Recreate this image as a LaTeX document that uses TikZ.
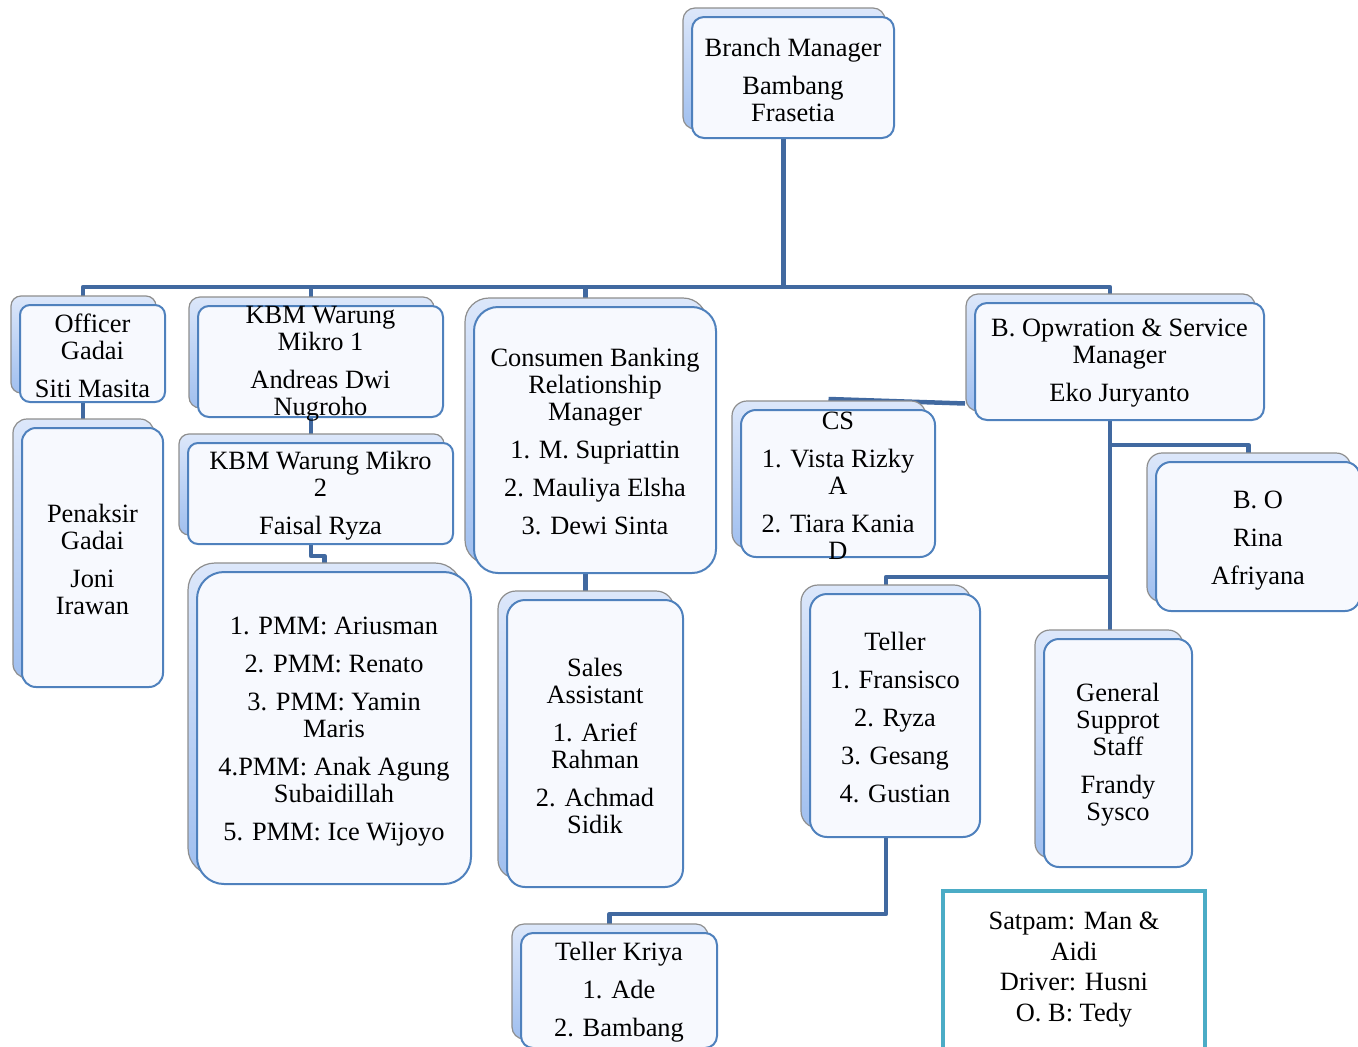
\documentclass[tikz,border=0pt]{standalone}
\usepackage{fontspec}
\setmainfont{Liberation Serif}
\usetikzlibrary{shadows,backgrounds}

\definecolor{linkblue}{HTML}{4169A0}
\definecolor{boxblue}{HTML}{4F81BD}
\definecolor{boxfill}{HTML}{F7F9FE}
\definecolor{backtop}{HTML}{DCE7FA}
\definecolor{backbot}{HTML}{A0BFEF}
\definecolor{backline}{HTML}{8E8E8E}
\definecolor{satline}{HTML}{4BACC6}

\begin{document}
\begin{tikzpicture}[x=1pt,y=-1pt,
  orgbox/.style={draw=boxblue,line width=2pt,fill=boxfill,
    copy shadow={shadow xshift=-9pt,shadow yshift=9pt,top color=backtop,
      bottom color=backbot,draw=backline,line width=1.2pt}},
  boxtext/.style={align=center,inner sep=0pt,yshift=-2pt,font=\fontsize{26.4pt}{27pt}\selectfont},
  link/.style={draw=linkblue,line width=4.5pt,line join=round}]

\useasboundingbox (0,0) rectangle (1358,1047);

% top
\node[orgbox,minimum width=202pt,minimum height=121pt,rounded corners=12pt] (bm) at (793,77.5) {};
\node[boxtext] (bm-t) at (bm) {Branch Manager\\[11pt]Bambang\\Frasetia};
\coordinate (bm-b) at ([xshift=-9.5pt]bm.center);

% second row
\node[orgbox,minimum width=145pt,minimum height=97pt,rounded corners=10pt] (og) at (92.5,353.5) {};
\node[boxtext] (og-t) at (og) {Officer\\Gadai\\[11pt]Siti Masita};
\coordinate (og-b) at ([xshift=-9.5pt]og.center);

\node[orgbox,minimum width=245pt,minimum height=111pt,rounded corners=11pt] (kbm1) at (320.5,361.5) {};
\node[boxtext] (kbm1-t) at (kbm1) {KBM Warung\\Mikro 1\\[11pt]Andreas Dwi\\Nugroho};
\coordinate (kbm1-b) at ([xshift=-9.5pt]kbm1.center);

\node[orgbox,minimum width=242pt,minimum height=266pt,rounded corners=24pt] (cbrm) at (595,440) {};
\node[boxtext] (cbrm-t) at (cbrm) {Consumen Banking\\Relationship\\Manager\\[11pt]1. M. Supriattin\\[11pt]2. Mauliya Elsha\\[11pt]3. Dewi Sinta};
\coordinate (cbrm-b) at ([xshift=-9.5pt]cbrm.center);

\node[orgbox,minimum width=289pt,minimum height=117pt,rounded corners=12pt] (bosm) at (1119.5,361.5) {};
\node[boxtext] (bosm-t) at (bosm) {B. Opwration \& Service\\Manager\\[11pt]Eko Juryanto};
\coordinate (bosm-b) at ([xshift=-9.5pt]bosm.center);

% third row
\node[orgbox,minimum width=141pt,minimum height=259pt,rounded corners=14pt] (pg) at (92.5,557.5) {};
\node[boxtext] (pg-t) at (pg) {Penaksir\\Gadai\\[11pt]Joni\\Irawan};
\coordinate (pg-b) at ([xshift=-9.5pt]pg.center);

\node[orgbox,minimum width=265pt,minimum height=101pt,rounded corners=10pt] (kbm2) at (320.5,493.5) {};
\node[boxtext] (kbm2-t) at (kbm2) {KBM Warung Mikro\\2\\[11pt]Faisal Ryza};
\coordinate (kbm2-b) at ([xshift=-9.5pt]kbm2.center);

\node[orgbox,minimum width=194pt,minimum height=147pt,rounded corners=15pt] (cs) at (838,483.5) {};
\node[boxtext] (cs-t) at (cs) {CS\\[11pt]1. Vista Rizky\\A\\[11pt]2. Tiara Kania\\D};
\coordinate (cs-b) at ([xshift=-9.5pt]cs.center);

\node[orgbox,minimum width=204pt,minimum height=149pt,rounded corners=15pt] (bo) at (1258,536.5) {};
\node[boxtext,yshift=-2pt] (bo-t) at (bo) {B. O\\[11pt]Rina\\[11pt]Afriyana};
\coordinate (bo-b) at ([xshift=-9.5pt]bo.center);

% fourth row
\node[orgbox,minimum width=274pt,minimum height=312pt,rounded corners=27pt] (pmm) at (334,728) {};
\node[boxtext,yshift=-2pt] (pmm-t) at (pmm) {1. PMM: Ariusman\\[11pt]2. PMM: Renato\\[11pt]3. PMM: Yamin\\Maris\\[11pt]4.PMM: Anak Agung\\Subaidillah\\[11pt]5. PMM: Ice Wijoyo};
\coordinate (pmm-b) at ([xshift=-9.5pt]pmm.center);

\node[orgbox,minimum width=176pt,minimum height=287pt,rounded corners=18pt] (sa) at (595,743.5) {};
\node[boxtext] (sa-t) at (sa) {Sales\\Assistant\\[11pt]1. Arief\\Rahman\\[11pt]2. Achmad\\Sidik};
\coordinate (sa-b) at ([xshift=-9.5pt]sa.center);

\node[orgbox,minimum width=170pt,minimum height=243pt,rounded corners=17pt] (tel) at (895,715.5) {};
\node[boxtext] (tel-t) at (tel) {Teller\\[11pt]1. Fransisco\\[11pt]2. Ryza\\[11pt]3. Gesang\\[11pt]4. Gustian};
\coordinate (tel-b) at ([xshift=-9pt]tel.center);

\node[orgbox,minimum width=148pt,minimum height=228pt,rounded corners=15pt] (gss) at (1118,753) {};
\node[boxtext] (gss-t) at (gss) {General\\Supprot\\Staff\\[11pt]Frandy\\Sysco};
\coordinate (gss-b) at ([xshift=-9.5pt]gss.center);

% bottom
\node[orgbox,minimum width=196pt,minimum height=115pt,rounded corners=12pt] (tk) at (619,990.5) {};
\node[boxtext] (tk-t) at (tk) {Teller Kriya\\[11pt]1. Ade\\[11pt]2. Bambang};
\coordinate (tk-b) at ([xshift=-9.5pt]tk.center);

\node[draw=satline,line width=4pt,fill=white,minimum width=262pt,minimum height=169pt] (sat) at (1074,975.5) {};
\node[boxtext,anchor=north,font=\fontsize{26.4pt}{30.5pt}\selectfont] (sat-t) at (1074,910) {Satpam: Man \&\\Aidi\\Driver: Husni\\O. B: Tedy};

% connectors
\coordinate (bus) at (0,287);
\coordinate (jog) at (0,556);
\coordinate (bobus) at (0,445);
\coordinate (telbus) at (0,577);
\coordinate (tkbus) at (0,914);

\begin{pgfonlayer}{background}
\draw[link] (bm-b) -- (bm-b |- bus) -| (og-b);
\draw[link] (bm-b |- bus) -| (kbm1-b);
\draw[link] (bm-b |- bus) -| (cbrm-b);
\draw[link] (bm-b |- bus) -| (bosm-b);

\draw[link] (og-b) -- (pg-b);
\draw[link] (kbm1-b) -- (kbm2-b);
\draw[link] (kbm2-b) -- (kbm2-b |- jog) -| (pmm-b);
\draw[link] (cbrm-b) -- (sa-b);

\draw[link] ([shift={(-9.5pt,10pt)}]cs.north) -- ([shift={(-9pt,-42pt)}]bosm.west);
\draw[link] (bosm-b) -- (bosm-b |- gss-b);
\draw[link] (bosm-b |- bobus) -| (bo-b);
\draw[link] (bosm-b |- telbus) -| (tel-b);
\draw[link] (tel-b) -- (tel-b |- tkbus) -| (tk-b);
\end{pgfonlayer}

\end{tikzpicture}
\end{document}
